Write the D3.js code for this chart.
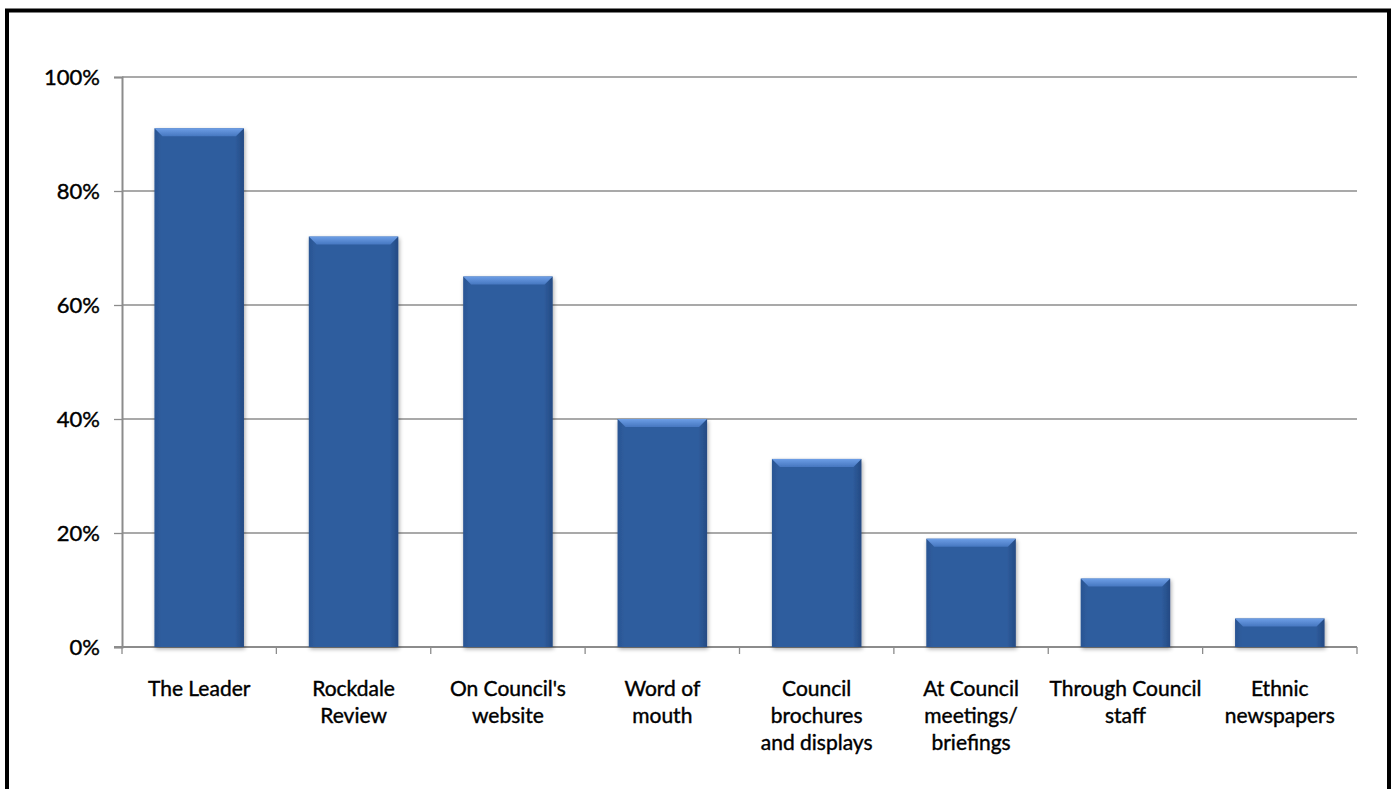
<!DOCTYPE html>
<html><head><meta charset="utf-8">
<script src="https://cdn.jsdelivr.net/npm/d3@7"></script>
<style>html,body{margin:0;padding:0;background:#fff;}svg{display:block;}</style>
</head><body>
<svg id="c" width="1395" height="789"></svg>
<script>
const categories = [
  ["The Leader"],
  ["Rockdale", "Review"],
  ["On Council's", "website"],
  ["Word of", "mouth"],
  ["Council", "brochures", "and displays"],
  ["At Council", "meetings/", "briefings"],
  ["Through Council", "staff"],
  ["Ethnic", "newspapers"]
];
const values = [0.91, 0.72, 0.65, 0.40, 0.33, 0.19, 0.12, 0.05];
const yTicks = [0, 0.2, 0.4, 0.6, 0.8, 1.0];

const svg = d3.select("#c");
const font = "'Century Gothic', 'URW Gothic', Lato, 'DejaVu Sans', sans-serif";
const m = {left:122, right:1357, top:77, bottom:647};

svg.append("rect").attr("x",7).attr("y",10.5).attr("width",1382).attr("height",800)
  .attr("fill","#fff").attr("stroke","#000").attr("stroke-width",4);

const x = d3.scaleBand().domain(d3.range(categories.length)).range([m.left, m.right]).paddingInner(0.42).paddingOuter(0.21);
const y = d3.scaleLinear().domain([0,1]).range([m.bottom, m.top]);

const defs = svg.append("defs");
const gMain = defs.append("linearGradient").attr("id","gMain").attr("x1",0).attr("x2",1);
gMain.append("stop").attr("offset",0).attr("stop-color","#2a5593");
gMain.append("stop").attr("offset",0.08).attr("stop-color","#2f5d9e");
gMain.append("stop").attr("offset",0.9).attr("stop-color","#2f5d9e");
gMain.append("stop").attr("offset",1).attr("stop-color","#244a83");
const gTop = defs.append("linearGradient").attr("id","gTop").attr("x1",0).attr("x2",0).attr("y1",0).attr("y2",1);
gTop.append("stop").attr("offset",0).attr("stop-color","#6d9ee6");
gTop.append("stop").attr("offset",1).attr("stop-color","#4677c0");
const f = defs.append("filter").attr("id","sh").attr("x","-10%").attr("y","-10%").attr("width","130%").attr("height","130%");
f.append("feGaussianBlur").attr("in","SourceAlpha").attr("stdDeviation",2);
f.append("feOffset").attr("dx",1).attr("dy",2).attr("result","b");
f.append("feComponentTransfer").append("feFuncA").attr("type","linear").attr("slope",0.35);
const fm = f.append("feMerge"); fm.append("feMergeNode"); fm.append("feMergeNode").attr("in","SourceGraphic");

// gridlines
svg.append("g").selectAll("line").data(yTicks.slice(1)).join("line")
  .attr("x1",m.left).attr("x2",m.right).attr("y1",d=>y(d)).attr("y2",d=>y(d))
  .attr("stroke","#8c8c8c").attr("stroke-width",1.3);

// y axis
const ya = svg.append("g").attr("transform",`translate(${m.left},0)`)
  .call(d3.axisLeft(y).tickValues(yTicks).tickFormat(d3.format(".0%")).tickSize(8).tickPadding(14));
ya.selectAll("line").attr("stroke","#8c8c8c").attr("stroke-width",1.3);
ya.select(".domain").attr("stroke","#8c8c8c").attr("stroke-width",2);
ya.selectAll("text").attr("font-family",font).attr("font-size",22).attr("fill","#000")
  .attr("stroke","#000").attr("stroke-width",0.4).attr("dy","0.35em");

// x axis line and ticks at boundaries
const bounds = d3.range(categories.length+1).map(i => m.left + i*(m.right-m.left)/categories.length);
svg.append("line").attr("x1",m.left-8).attr("x2",m.right).attr("y1",m.bottom).attr("y2",m.bottom)
  .attr("stroke","#8c8c8c").attr("stroke-width",2);
svg.append("g").selectAll("line").data(bounds).join("line")
  .attr("x1",d=>d).attr("x2",d=>d).attr("y1",m.bottom).attr("y2",m.bottom+7)
  .attr("stroke","#8c8c8c").attr("stroke-width",1.3);

// bars
const bars = svg.append("g").selectAll("g").data(values).join("g").attr("filter","url(#sh)");
bars.append("rect").attr("x",(d,i)=>x(i)).attr("y",d=>y(d)).attr("width",x.bandwidth())
  .attr("height",d=>m.bottom-y(d)).attr("fill","url(#gMain)");
const bv = 8;
bars.append("path").attr("d",(d,i)=>{
  const x0=x(i), x1=x(i)+x.bandwidth(), y0=y(d);
  return `M${x0},${y0}L${x1},${y0}L${x1-bv},${y0+bv}L${x0+bv},${y0+bv}Z`;
}).attr("fill","url(#gTop)");

// category labels
const lab = svg.append("g").selectAll("text").data(categories).join("text")
  .attr("x",(d,i)=>x(i)+x.bandwidth()/2).attr("y",696)
  .attr("text-anchor","middle").attr("font-family",font).attr("font-size",21).attr("fill","#000")
  .attr("stroke","#000").attr("stroke-width",0.4);
lab.selectAll("tspan").data(d=>d).join("tspan")
  .attr("x",function(){return this.parentNode.getAttribute("x");})
  .attr("dy",(d,j)=>j===0?0:27).text(d=>d);
</script>
</body></html>
